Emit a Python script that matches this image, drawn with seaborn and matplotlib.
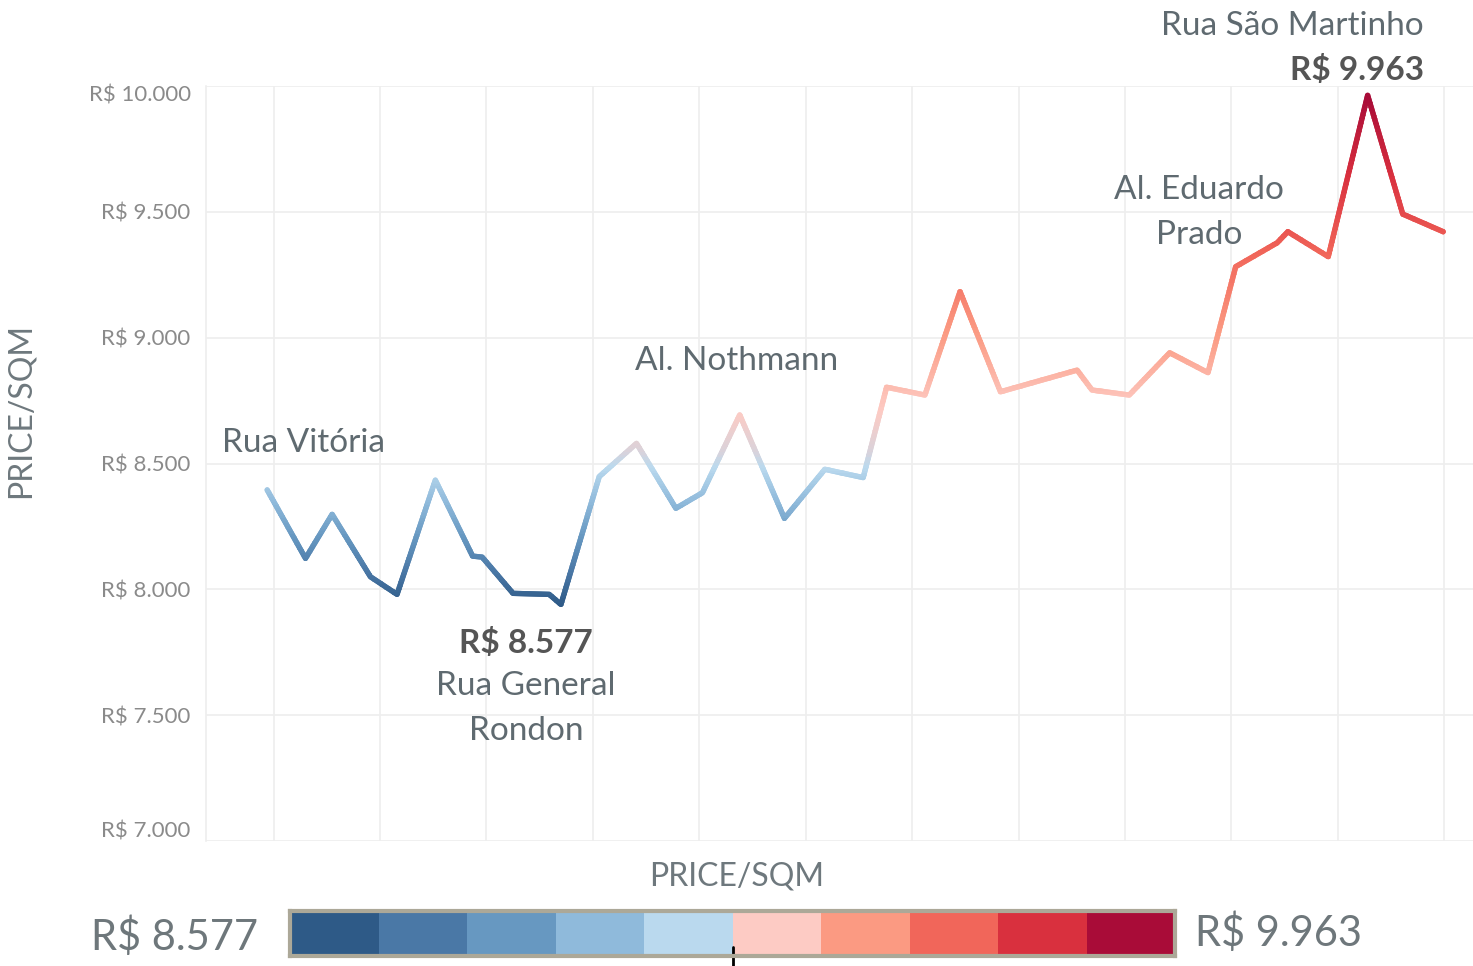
import numpy as np
import seaborn as sns
import matplotlib
matplotlib.use("Agg")
import matplotlib.pyplot as plt
from matplotlib.colors import LinearSegmentedColormap, ListedColormap, TwoSlopeNorm
from matplotlib.patches import Rectangle

# street position along the x axis (gridline = 1 unit) and price per sqm
pos = [-0.06, 0.30, 0.55, 0.91, 1.16, 1.52, 1.87, 1.96, 2.25, 2.59, 2.70, 3.06,
       3.41, 3.78, 4.03, 4.38, 4.80, 5.18, 5.54, 5.76, 6.12, 6.45, 6.83, 7.55,
       7.69, 8.04, 8.42, 8.78, 9.04, 9.43, 9.53, 9.91, 10.28, 10.61, 10.99]
price = [8395, 8123, 8298, 8050, 7980, 8434, 8132, 8128, 7984, 7980, 7940, 8448,
         8580, 8322, 8384, 8693, 8282, 8477, 8444, 8803, 8772, 9183, 8785, 8871,
         8792, 8772, 8940, 8861, 9282, 9377, 9421, 9322, 9963, 9491, 9421]
y_ticks = [7000, 7500, 8000, 8500, 9000, 9500, 10000]
steps = ["#2E5A87", "#4A78A6", "#6798C1", "#8FBADB", "#BAD9EE",
         "#FDCBC4", "#FB9A82", "#F1665A", "#D9303E", "#A90C38"]
legend_min = "R$ 8.577"
legend_max = "R$ 9.963"

W, H = 1473, 966
GRID = "#eeeeee"
NAME_C = "#5f6a70"
VAL_C = "#555555"

sns.set_style("white")
plt.rcParams["font.family"] = ["Lato", "DejaVu Sans"]

fig = plt.figure(figsize=(W / 100, H / 100), dpi=100)
ax = fig.add_axes([206 / W, 125 / H, 1267 / W, 755 / H])

cmap = LinearSegmentedColormap.from_list("rdbu", steps)
norm = TwoSlopeNorm(vmin=min(price), vcenter=8560, vmax=max(price))

sns.lineplot(x=pos, y=price, sort=False, ax=ax, lw=3.8)
base = ax.lines[0]
xs, ys = base.get_data()
base.remove()

# colour by value: redraw the line in thin horizontal bands
edges = np.linspace(min(price) - 40, max(price) + 40, 201)
pad = (edges[1] - edges[0]) * 0.6
for lo, hi in zip(edges[:-1], edges[1:]):
    ln, = ax.plot(xs, ys, color=cmap(norm((lo + hi) / 2)), lw=3.8,
                  solid_joinstyle="round", solid_capstyle="round")
    ln.set_clip_path(Rectangle((-5, lo - pad), 30, hi - lo + 2 * pad,
                               transform=ax.transData))

ax.set_xlim(-0.635, 11.27)
ax.set_ylim(7000, 10000)
ax.set_xticks(range(12))
ax.set_xticklabels([])
ax.set_yticks(y_ticks)
ax.set_yticklabels([f"R$ {v:,}".replace(",", ".") for v in y_ticks])
ax.grid(True, color=GRID, lw=1.2)
ax.set_axisbelow(True)
for name, sp in ax.spines.items():
    sp.set_visible(name == "left")
    sp.set_color(GRID)
    sp.set_linewidth(1.2)
ax.tick_params(axis="y", length=8, width=1.2, color=GRID, pad=3,
               labelsize=16, labelcolor="#8a8a8a")
ax.tick_params(axis="x", length=6, width=1.2, color=GRID)
tl = ax.get_yticklabels()
tl[0].set_va("bottom")
tl[-1].set_va("top")

def ftext(x, y, s, **kw):
    fig.text(x / W, 1 - y / H, s, **kw)

ftext(21, 410, "PRICE/SQM", rotation=90, ha="center", va="center",
      fontsize=23, color="#6e787d")
ftext(737, 877, "PRICE/SQM", ha="center", va="center", fontsize=23, color="#6e787d")

ftext(222, 443, "Rua Vitória", ha="left", va="center", fontsize=24, color=NAME_C)
ftext(737, 361, "Al. Nothmann", ha="center", va="center", fontsize=24, color=NAME_C)
ftext(1199, 190, "Al. Eduardo", ha="center", va="center", fontsize=24, color=NAME_C)
ftext(1199, 235, "Prado", ha="center", va="center", fontsize=24, color=NAME_C)
ftext(1292, 26, "Rua São Martinho", ha="center", va="center", fontsize=24, color=NAME_C)
ftext(1357, 70, legend_max, ha="center", va="center", fontsize=24,
      fontweight="bold", color=VAL_C)
ftext(526, 643, legend_min, ha="center", va="center", fontsize=24,
      fontweight="bold", color=VAL_C)
ftext(526, 686, "Rua General", ha="center", va="center", fontsize=24, color=NAME_C)
ftext(526, 731, "Rondon", ha="center", va="center", fontsize=24, color=NAME_C)

# stepped colour legend
cax = fig.add_axes([290 / W, 1 - 956 / H, 885 / W, 45 / H])
sns.heatmap(np.arange(len(steps)).reshape(1, -1), cmap=ListedColormap(steps),
            cbar=False, ax=cax, xticklabels=False, yticklabels=False)
for sp in cax.spines.values():
    sp.set_visible(True)
    sp.set_color("#aca898")
    sp.set_linewidth(3)
cax.plot([5, 5], [0.8, 1.25], color="black", lw=2, clip_on=False)
ftext(258, 937, legend_min, ha="right", va="center", fontsize=30, color="#6e777b")
ftext(1195, 933, legend_max, ha="left", va="center", fontsize=30, color="#6e777b")

fig.savefig("out.png", dpi=100)
